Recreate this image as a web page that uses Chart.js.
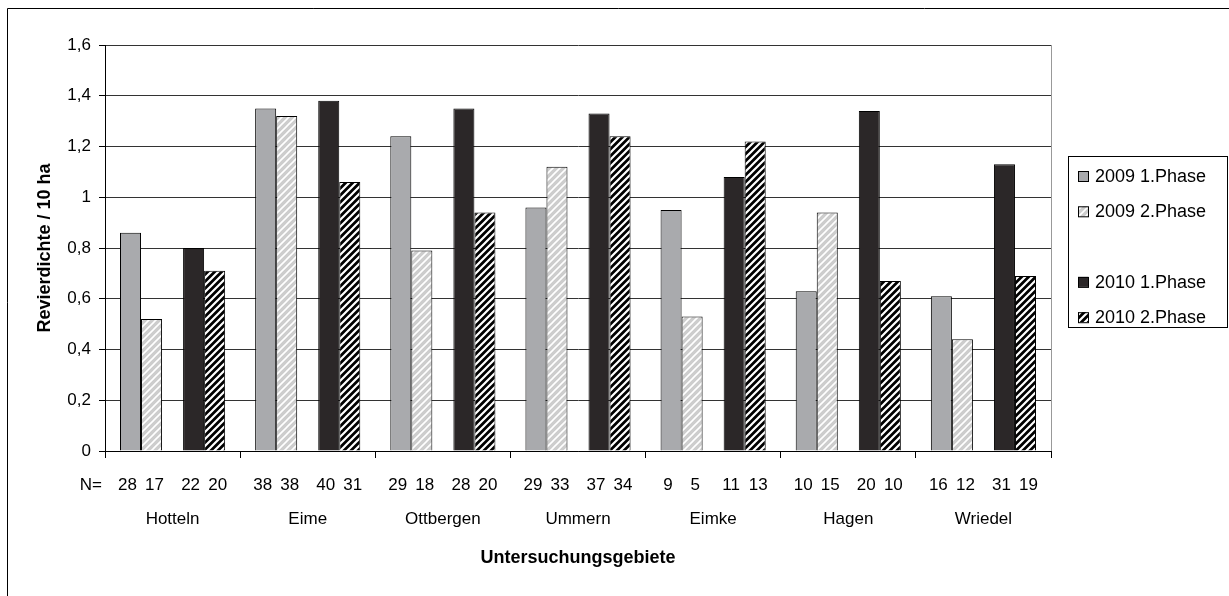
<!DOCTYPE html>
<html>
<head>
<meta charset="utf-8">
<script src="https://cdn.jsdelivr.net/npm/chart.js@4/dist/chart.umd.min.js"></script>
<style>
  body { margin: 0; background: #fff; }
</style>
</head>
<body>
<canvas id="chartRevier" width="1229" height="596"></canvas>
<script>
var gebiete = ["Hotteln", "Eime", "Ottbergen", "Ummern", "Eimke", "Hagen", "Wriedel"];

var dichte2009a = [0.86, 1.35, 1.24, 0.96, 0.95, 0.63, 0.61];
var dichte2009b = [0.52, 1.32, 0.79, 1.12, 0.53, 0.94, 0.44];
var dichte2010a = [0.80, 1.38, 1.35, 1.33, 1.08, 1.34, 1.13];
var dichte2010b = [0.71, 1.06, 0.94, 1.24, 1.22, 0.67, 0.69];

var n2009a = [28, 38, 29, 29, 9, 10, 16];
var n2009b = [17, 38, 18, 33, 5, 15, 12];
var n2010a = [22, 40, 28, 37, 11, 20, 31];
var n2010b = [20, 31, 20, 34, 13, 10, 19];

var yTicks = [0, 0.2, 0.4, 0.6, 0.8, 1, 1.2, 1.4, 1.6];

var schrift = "'Liberation Sans', Arial, sans-serif";

// gestreifte Fuellung wie in Excel
function streifen(bg, fg, breite) {
    var s = 7;
    var c = document.createElement("canvas");
    c.width = s; c.height = s;
    var g = c.getContext("2d");
    g.fillStyle = bg;
    g.fillRect(0, 0, s, s);
    g.strokeStyle = fg;
    g.lineWidth = breite;
    g.beginPath();
    g.moveTo(-1, s + 1); g.lineTo(s + 1, -1);
    g.moveTo(-1, 1); g.lineTo(1, -1);
    g.moveTo(s - 1, s + 1); g.lineTo(s + 1, s - 1);
    g.stroke();
    return g.createPattern(c, "repeat");
}

var ctx = document.getElementById("chartRevier").getContext("2d");

// N-Werte je Datensatz, mit kleinem Versatz nach aussen
var nWerte = [n2009a, n2009b, null, n2010a, n2010b];
var nVersatz = [-3, 3, 0, -3, 3];

var extras = {
    id: "extras",
    afterDraw: function (chart) {
        var c = chart.ctx;
        var area = chart.chartArea;
        c.save();
        // Rahmen
        c.strokeStyle = "#000";
        c.lineWidth = 1;
        c.beginPath();
        c.moveTo(7.5, 700); c.lineTo(7.5, 8.5); c.lineTo(1300, 8.5);
        c.stroke();
        c.strokeStyle = "#999";
        c.beginPath();
        c.moveTo(Math.round(area.right) + 0.5, area.top);
        c.lineTo(Math.round(area.right) + 0.5, area.bottom);
        c.stroke();

        // N-Zeile
        c.fillStyle = "#000";
        c.font = "17px " + schrift;
        c.textBaseline = "middle";
        c.textAlign = "right";
        c.fillText("N=", 102, 485);
        c.textAlign = "center";
        nWerte.forEach(function (arr, di) {
            if (!arr) return;
            var meta = chart.getDatasetMeta(di);
            meta.data.forEach(function (bar, i) {
                c.fillText(String(arr[i]), bar.x + nVersatz[di], 485);
            });
        });

        // Legende
        var lx = 1068, ly = 156;
        c.strokeStyle = "#000";
        c.strokeRect(lx + 0.5, ly + 0.5, 159, 171);
        c.font = "18px " + schrift;
        c.textAlign = "left";
        chart.data.datasets.forEach(function (ds, i) {
            if (!ds.label) return;
            var y = 176 + i * 35.3;
            c.fillStyle = ds.backgroundColor;
            c.fillRect(lx + 10, y - 5, 10, 10);
            c.strokeStyle = "#000";
            c.strokeRect(lx + 10.5, y - 4.5, 10, 10);
            c.fillStyle = "#000";
            c.fillText(ds.label, lx + 27, y + 1);
        });
        c.restore();
    }
};

new Chart(ctx, {
    type: "bar",
    data: {
        labels: gebiete,
        datasets: [
            {
                label: "2009 1.Phase",
                data: dichte2009a,
                backgroundColor: "#a9aaad",
                borderColor: "#000",
                borderWidth: 1
            },
            {
                label: "2009 2.Phase",
                data: dichte2009b,
                backgroundColor: streifen("#cdcdcd", "#ffffff", 1.6),
                borderColor: "#000",
                borderWidth: 1
            },
            {
                label: "",
                data: gebiete.map(function () { return null; }),
                backgroundColor: "rgba(0,0,0,0)"
            },
            {
                label: "2010 1.Phase",
                data: dichte2010a,
                backgroundColor: "#2b2728",
                borderColor: "#000",
                borderWidth: 1
            },
            {
                label: "2010 2.Phase",
                data: dichte2010b,
                backgroundColor: streifen("#000000", "#ffffff", 2.2),
                borderColor: "#000",
                borderWidth: 1
            }
        ]
    },
    options: {
        responsive: false,
        devicePixelRatio: 1,
        animation: false,
        layout: { padding: { left: 10, right: 178, top: 45, bottom: 10 } },
        datasets: {
            bar: { categoryPercentage: 0.778, barPercentage: 1 }
        },
        plugins: {
            legend: { display: false },
            tooltip: { enabled: false }
        },
        scales: {
            x: {
                afterFit: function (s) { s.height = 135; },
                grid: { offset: true, drawOnChartArea: false, tickLength: 7, color: "#000" },
                border: { color: "#000" },
                ticks: { color: "#000", padding: 51, font: { size: 17, family: schrift } },
                title: {
                    display: true,
                    text: "Untersuchungsgebiete",
                    color: "#000",
                    padding: 17,
                    font: { size: 18, weight: "bold", family: schrift }
                }
            },
            y: {
                min: 0,
                max: 1.6,
                afterFit: function (s) { s.width = 95; },
                afterBuildTicks: function (s) {
                    s.ticks = yTicks.map(function (v) { return { value: v }; });
                },
                grid: { color: "#333", tickColor: "#000", tickLength: 6 },
                border: { color: "#000" },
                ticks: {
                    color: "#000",
                    padding: 8,
                    font: { size: 17, family: schrift },
                    callback: function (v) { return String(Math.round(v * 10) / 10).replace(".", ","); }
                },
                title: {
                    display: true,
                    text: "Revierdichte / 10 ha",
                    color: "#000",
                    padding: 24,
                    font: { size: 18, weight: "bold", family: schrift }
                }
            }
        }
    },
    plugins: [extras]
});
</script>
</body>
</html>
